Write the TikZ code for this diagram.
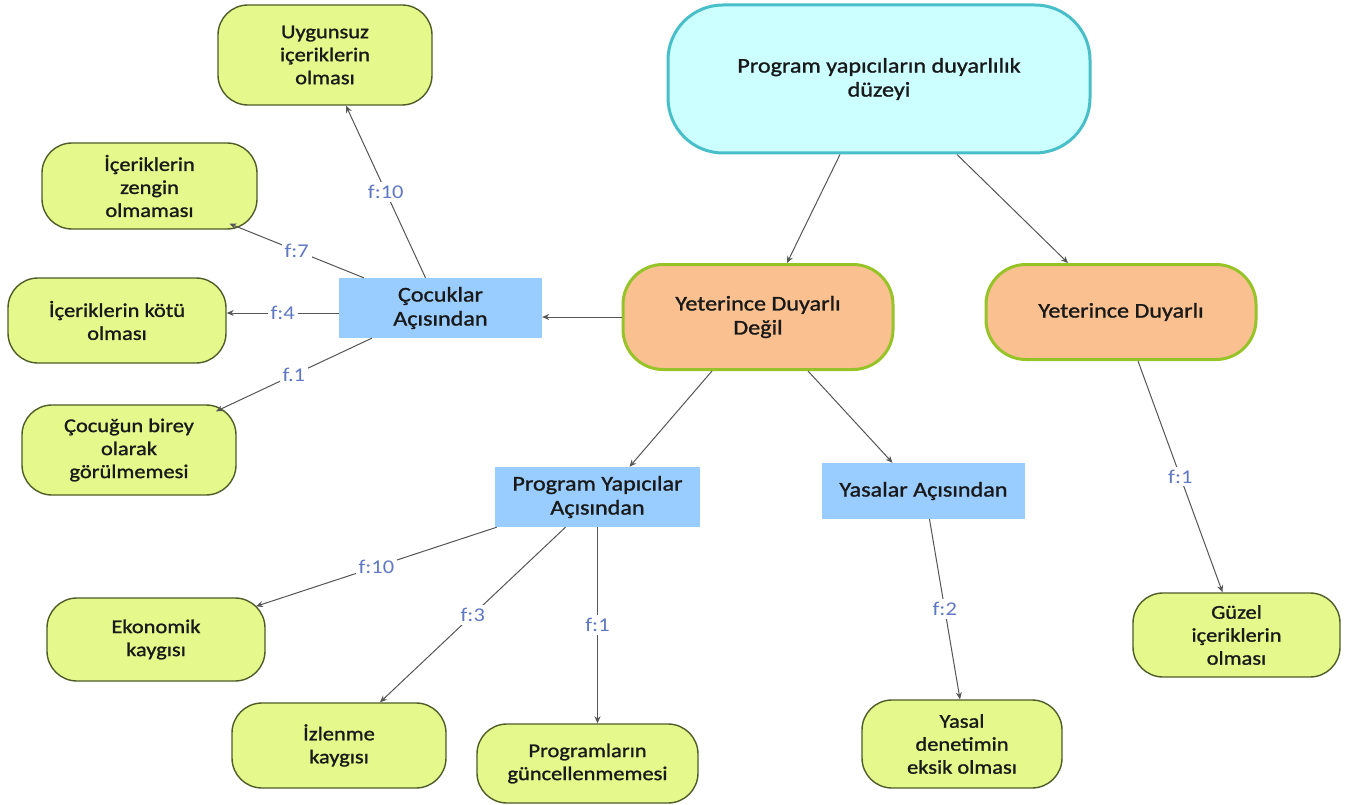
\documentclass[tikz,border=0pt]{standalone}
\usepackage{fontspec}
\setmainfont[FakeStretch=1.15,FakeBold=1.2]{Carlito}
\newfontfamily\lblfont[FakeStretch=1.15]{Carlito}
\usetikzlibrary{arrows.meta}
\definecolor{topfill}{RGB}{204,255,255}
\definecolor{topline}{RGB}{72,190,200}
\definecolor{orfill}{RGB}{250,192,144}
\definecolor{orline}{RGB}{150,196,40}
\definecolor{bluefill}{RGB}{153,204,255}
\definecolor{grfill}{RGB}{228,248,140}
\definecolor{grline}{RGB}{80,92,40}
\definecolor{lblcol}{RGB}{95,120,195}
\definecolor{arrcol}{RGB}{85,85,85}
\definecolor{txtcol}{RGB}{25,25,25}
\begin{document}
\begin{tikzpicture}[x=1pt,y=-1pt,
  base/.style={align=center,inner sep=0pt,text=txtcol,font=\fontsize{19.5}{23}\selectfont},
  topbox/.style={base,fill=topfill,draw=topline,line width=3pt,rounded corners=55pt,font=\fontsize{21}{24}\selectfont},
  orbox/.style={base,fill=orfill,draw=orline,line width=3pt,rounded corners=40pt,font=\fontsize{21}{24}\selectfont},
  bluebox/.style={base,fill=bluefill,font=\fontsize{21}{24}\selectfont},
  grbox/.style={base,fill=grfill,draw=grline,line width=1.4pt,rounded corners=30pt},
  arr/.style={draw=arrcol,line width=1pt,-{Stealth[length=7pt,width=6pt]}},
  lbl/.style={fill=white,text=lblcol,inner sep=3pt,font=\lblfont\fontsize{19.5}{23}\selectfont}]
\useasboundingbox[fill=white] (0,0) rectangle (1346,805);
% main nodes
\node[topbox,minimum width=422pt,minimum height=148pt] (top) at (879,79) {Program yapıcıların duyarlılık\\düzeyi};
\node[orbox,minimum width=270pt,minimum height=105pt] (ydd) at (758,317) {Yeterince Duyarlı\\Değil};
\node[orbox,minimum width=270pt,minimum height=95pt] (yd) at (1121,312) {Yeterince Duyarlı};
\node[bluebox,minimum width=203pt,minimum height=60pt] (cocuk) at (440.5,308) {Çocuklar\\Açısından};
\node[bluebox,minimum width=205pt,minimum height=60pt] (progyap) at (597.5,497) {Program Yapıcılar\\Açısından};
\node[bluebox,minimum width=203pt,minimum height=56pt] (yasa) at (923.5,491) {Yasalar Açısından};
% leaves
\node[grbox,minimum width=214pt,minimum height=100pt] (uyg) at (325,55) {Uygunsuz\\içeriklerin\\olması};
\node[grbox,minimum width=215pt,minimum height=86pt] (zeng) at (149.5,186) {İçeriklerin\\zengin\\olmaması};
\node[grbox,minimum width=218pt,minimum height=85pt] (kotu) at (117,320.5) {İçeriklerin kötü\\olması};
\node[grbox,minimum width=214pt,minimum height=90pt] (birey) at (129,450) {Çocuğun birey\\olarak\\görülmemesi};
\node[grbox,minimum width=218pt,minimum height=83pt] (eko) at (156,639.5) {Ekonomik\\kaygısı};
\node[grbox,minimum width=214pt,minimum height=85pt] (izl) at (339,745.5) {İzlenme\\kaygısı};
\node[grbox,minimum width=221pt,minimum height=79pt] (prg) at (587.5,763.5) {Programların\\güncellenmemesi};
\node[grbox,minimum width=200pt,minimum height=88pt] (yasal) at (962,744) {Yasal\\denetimin\\eksik olması};
\node[grbox,minimum width=207pt,minimum height=84pt] (guzel) at (1236.5,635) {Güzel\\içeriklerin\\olması};
% connectors
\draw[arr] ([xshift=-39pt]top.south) -- ([xshift=29pt]ydd.north);
\draw[arr] ([xshift=78pt]top.south) -- ([xshift=-53pt]yd.north);
\draw[arr] (ydd.west) -- (ydd.west -| cocuk.east);
\draw[arr] ([xshift=-46pt]ydd.south) -- ([xshift=32pt]progyap.north);
\draw[arr] ([xshift=50pt]ydd.south) -- ([xshift=-31pt]yasa.north);
\draw[arr] ([xshift=17pt]yd.south) -- node[lbl]{f:1} ([xshift=-14pt]guzel.north);
\draw[arr] ([xshift=-15pt]cocuk.north) -- node[lbl]{f:10} ([xshift=21pt]uyg.south);
\draw[arr] ([xshift=25pt]cocuk.north west) -- node[lbl]{f:7} ([xshift=80pt,yshift=6pt]zeng.south);
\draw[arr] ([yshift=-5pt]cocuk.west) -- node[lbl]{f:4} ([yshift=-5pt]cocuk.west -| kotu.east);
\draw[arr] ([xshift=33pt]cocuk.south west) -- node[lbl]{f.1} ([xshift=87pt,yshift=-7pt]birey.north);
\draw[arr] ([xshift=2pt]progyap.south west) -- node[lbl]{f:10} ([xshift=100pt,yshift=-9pt]eko.north);
\draw[arr] ([xshift=-32pt]progyap.south) -- node[lbl]{f:3} ([xshift=41pt]izl.north);
\draw[arr] (progyap.south) -- node[lbl]{f:1} (progyap.south |- prg.north);
\draw[arr] ([xshift=6pt]yasa.south) -- node[lbl]{f:2} ([xshift=-2pt]yasal.north);
\end{tikzpicture}
\end{document}
